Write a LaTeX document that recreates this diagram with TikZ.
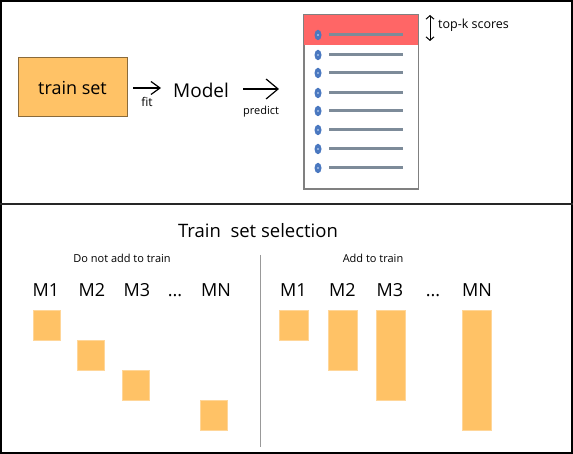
\documentclass[tikz,border=0pt]{standalone}
\usepackage{fontspec}
\setmainfont{Open Sans}
\usepackage{tikz}
\usetikzlibrary{arrows.meta,positioning,shapes.geometric}

\definecolor{setfill}{HTML}{FFC266}
\definecolor{setedge}{HTML}{8A6A3A}
\definecolor{seledge}{HTML}{FFD699}
\definecolor{topred}{HTML}{FF6666}
\definecolor{dotblue}{HTML}{4A78C0}
\definecolor{dotlight}{HTML}{A9C2E8}
\definecolor{rowgray}{HTML}{7D8B99}

\begin{document}
\begin{tikzpicture}[x=1pt,y=-1pt,>={Straight Barb[length=9pt,width=13pt]},inner sep=0pt]
	\useasboundingbox (0,0) rectangle (573,454);
	\tikzset{trainbox/.style={rectangle,draw=setedge,fill=setfill,line width=1pt,minimum width=109pt,minimum height=59pt,font=\fontsize{18}{20}\selectfont}}
	\tikzset{selbox/.style={rectangle,draw=seledge,fill=setfill,line width=0.8pt,minimum width=27pt,anchor=north west}}
	\tikzset{mlabel/.style={anchor=base,font=\fontsize{18}{20}\selectfont}}
	\tikzset{small/.style={font=\fontsize{11}{13}\selectfont}}
	\tikzset{bullet/.style={ellipse,fill=dotblue,minimum width=7pt,minimum height=10.5pt}}
	\tikzset{row/.style={draw=rowgray,line width=3pt}}
	% frames
	\draw[line width=2pt] (1,1) rectangle (572,453);
	\draw[line width=2.5pt,color=black!85] (0,204) -- (573,204);
	% top panel
	\node[trainbox] (train) at (72.5,87.5) {train set};
	\node[font=\fontsize{19}{21}\selectfont] (model) at (201,90) {Model};
	\node[rectangle,draw=gray,line width=1pt,minimum width=114pt,minimum height=174pt] (list) at (361,102) {};
	\fill[topred] (list.north west) rectangle (418,45);
	\draw[gray,line width=1pt] (list.north west) rectangle (list.south east);
	\coordinate (fitA) at (133,88);
	\coordinate (fitB) at (161,88);
	\coordinate (predA) at (243,89);
	\coordinate (predB) at (279,89);
	\path[line width=1.2pt]
	(fitA)  edge [->] node[below=8.5pt,font=\fontsize{12}{14}\selectfont] {fit} (fitB)
	(predA) edge [->,>={Straight Barb[length=12pt,width=20pt]}] node[below=17pt,small] {predict} (predB);
	\node[bullet] (b1) at (318,35) {};  \draw[row] (329,35) -- (403,35);
	\node[bullet] (b2) at (318,55) {};  \draw[row] (329,55) -- (403,55);
	\node[bullet] (b3) at (318,73) {};  \draw[row] (329,73) -- (403,73);
	\node[bullet] (b4) at (318,93) {};  \draw[row] (329,93) -- (403,93);
	\node[bullet] (b5) at (318,111) {}; \draw[row] (329,111) -- (403,111);
	\node[bullet] (b6) at (318,130) {}; \draw[row] (329,130) -- (403,130);
	\node[bullet] (b7) at (318,149) {}; \draw[row] (329,149) -- (403,149);
	\node[bullet] (b8) at (318,168) {}; \draw[row] (329,168) -- (403,168);
	\fill[dotlight] (318,35) circle (1.2pt) (318,55) circle (1.2pt) (318,73) circle (1.2pt) (318,93) circle (1.2pt)
	(318,111) circle (1.2pt) (318,130) circle (1.2pt) (318,149) circle (1.2pt) (318,168) circle (1.2pt);
	\coordinate (ktop) at (430,15);
	\coordinate (kbot) at (430,41);
	\draw[<->,line width=1pt,>={Straight Barb[length=3.5pt,width=8pt]}] (ktop) -- (kbot);
	\node[anchor=west,font=\fontsize{12.5}{14}\selectfont] (topk) at (438,25) {top-k scores};
	% bottom panel
	\node[font=\fontsize{18.5}{21}\selectfont] (title) at (258,231) {Train\ \ set selection};
	\draw[gray!80,line width=1pt] (260,255) -- (260,447);
	\node[small] (notadd) at (122,258) {Do not add to train};
	\node[small] (add) at (373,258) {Add to train};
	\node[mlabel] (lm1) at (46,297) {M1};
	\node[mlabel] (lm2) at (92,297) {M2};
	\node[mlabel] (lm3) at (137,297) {M3};
	\node[mlabel] (ldots) at (175,297) {...};
	\node[mlabel] (lmn) at (216,297) {MN};
	\node[mlabel] (rm1) at (293.5,297) {M1};
	\node[mlabel] (rm2) at (342.5,297) {M2};
	\node[mlabel] (rm3) at (390,297) {M3};
	\node[mlabel] (rdots) at (433,297) {...};
	\node[mlabel] (rmn) at (477,297) {MN};
	\node[selbox,minimum height=30pt] (lb1) at (32.5,310) {};
	\node[selbox,minimum height=30pt] (lb2) at (77,340) {};
	\node[selbox,minimum height=30pt] (lb3) at (122,370) {};
	\node[selbox,minimum height=30pt] (lbn) at (200,400) {};
	\node[selbox,minimum width=29pt,minimum height=30pt] (rb1) at (279,310) {};
	\node[selbox,minimum width=29pt,minimum height=60pt] (rb2) at (327.5,310) {};
	\node[selbox,minimum width=29pt,minimum height=90pt] (rb3) at (376,310) {};
	\node[selbox,minimum width=29pt,minimum height=120pt] (rbn) at (461.5,310) {};
\end{tikzpicture}
\end{document}
